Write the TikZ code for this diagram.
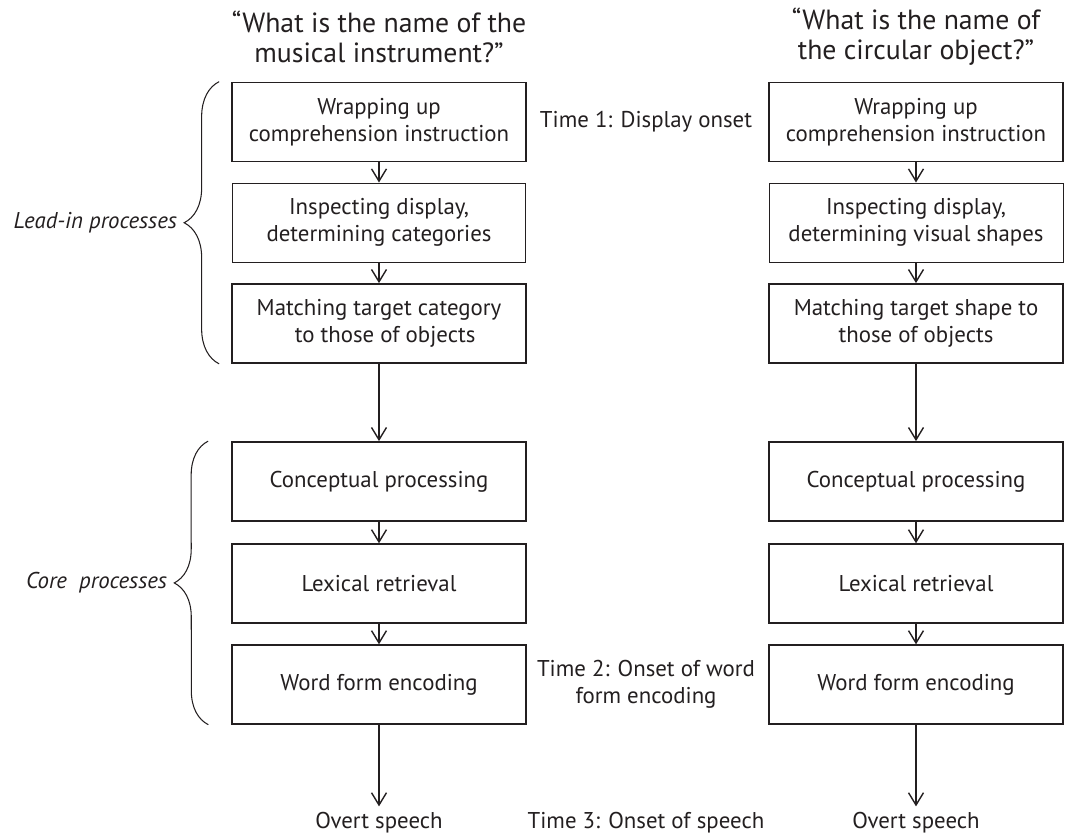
\documentclass[tikz,border=0pt]{standalone}
\usepackage{fontspec}
\setmainfont{PT Sans}
\usetikzlibrary{arrows.meta,decorations.pathreplacing}
\definecolor{ink}{HTML}{231F20}

\begin{document}
\begin{tikzpicture}[
    x=0.02cm, y=-0.02cm,
    every node/.style={text=ink},
    box/.style={draw=ink, line width=1pt, align=center,
        minimum width=5.88cm, minimum height=1.58cm,
        font=\fontsize{13}{15.4}\selectfont},
    lbl/.style={align=center, font=\fontsize{13}{15.4}\selectfont},
    head/.style={align=center, font=\fontsize{15.8}{17.1}\selectfont},
    flow/.style={draw=ink, line width=0.8pt,
        -{Straight Barb[length=7pt,width=8.5pt]}},
    curly/.style={draw=ink, line width=0.6pt,
        decorate, decoration={brace, amplitude=0.7cm}}
    ]
    \useasboundingbox (0,0) rectangle (1065,834);

    % questions
    \node[head] (qL) at (379,37) {``What is the name of the\\musical instrument?''};
    \node[head] (qR) at (916,37) {``What is the name of\\the circular object?''};

    % the two stages that differ between the questions
    \node[box, line width=0.55pt] (L2) at (379,222.5) {Inspecting display,\\determining categories};
    \node[box] (L3) at (379,323.5) {Matching target category\\\ \ to those of objects};
    \node[box, line width=0.55pt] (R2) at (916,222.5) {Inspecting display,\\determining visual shapes};
    \node[box] (R3) at (916,323.5) {Matching target shape to\\those of objects};

    % the stages both columns share
    \foreach \c/\x in {L/379, R/916} {
        \node[box] (\c1) at (\x,122) {Wrapping up\\comprehension instruction};
        \node[box] (\c4) at (\x,481.5) {Conceptual processing};
        \node[box, line width=0.8pt] (\c5) at (\x,583.5) {Lexical retrieval};
        \node[box, line width=0.8pt] (\c6) at (\x,684.5) {Word form encoding};
        \node[lbl] (\c7) at (\x,823) {Overt speech};
        \draw[flow] (\c1) -- (\c2);
        \draw[flow] (\c2) -- (\c3);
        \draw[flow] (\c3) -- (\c4);
        \draw[flow] (\c4) -- (\c5);
        \draw[flow] (\c5) -- (\c6);
        \draw[flow] (\c6) -- (\c7);
    }

    % time points
    \node[lbl] (t1) at (646,122) {Time 1: Display onset};
    \node[lbl] (t2) at (646,684) {Time 2: Onset of word\\form encoding};
    \node[lbl] (t3) at (646,823) {Time 3: Onset of speech};

    % groups
    \draw[curly] ([xshift=-0.24cm]L3.south west) -- ([xshift=-0.24cm]L1.north west)
        coordinate[midway, xshift=-0.72cm] (leadtip);
    \draw[curly, decoration={amplitude=0.68cm}] ([xshift=-0.46cm]L6.south west) -- ([xshift=-0.46cm]L4.north west)
        coordinate[midway, xshift=-0.7cm] (coretip);
    \node[lbl, anchor=east, font=\fontsize{13}{15.4}\selectfont\itshape] (lead) at (leadtip) {Lead-in processes};
    \node[lbl, anchor=east, font=\fontsize{13}{15.4}\selectfont\itshape] (core) at (coretip) {Core\ \ processes};
\end{tikzpicture}
\end{document}
